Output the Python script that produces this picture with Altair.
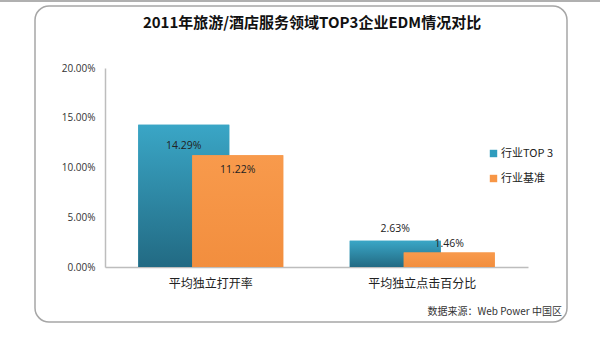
import altair as alt
import pandas as pd

categories = ["平均独立打开率", "平均独立点击百分比"]
series = ["行业TOP 3", "行业基准"]
top3 = [0.1429, 0.0263]
bench = [0.1122, 0.0146]
y_ticks = [0, 0.05, 0.10, 0.15, 0.20]
title_text = "2011年旅游/酒店服务领域TOP3企业EDM情况对比"
source_text = "数据来源：Web Power 中国区"

rows = []
for c, a, b in zip(categories, top3, bench):
    rows.append({"cat": c, "series": series[0], "v": a})
    rows.append({"cat": c, "series": series[1], "v": b})
df = pd.DataFrame(rows)

CJK = "Noto Sans CJK SC"
NUM = "Open Sans"

x = alt.X("cat:N", sort=categories, title=None,
          scale=alt.Scale(paddingInner=0, paddingOuter=0),
          axis=alt.Axis(labelAngle=0, ticks=False, labelFont=CJK, labelFontSize=12,
                        labelColor="#222", labelPadding=11, domainColor="#bdbdbd", domainWidth=1.5))
y = alt.Y("v:Q", title=None,
          scale=alt.Scale(domain=[0, 0.2], nice=False),
          axis=alt.Axis(values=y_ticks, format=".2%", grid=False, ticks=False,
                        labelFont=NUM, labelFontSize=10, labelColor="#333", labelPadding=10,
                        domainColor="#bdbdbd", domainWidth=1.5))
color = alt.Color("series:N", scale=alt.Scale(domain=series, range=["#2f9cbd", "#f79646"]),
                  legend=alt.Legend(title=None, orient="none", legendX=383, legendY=80,
                                    symbolType="square", symbolSize=55, symbolStrokeWidth=0,
                                    labelFont=CJK, labelFontSize=11, labelColor="#222",
                                    rowPadding=13, labelOffset=2))

teal_grad = alt.Gradient(gradient="linear", x1=0, y1=0, x2=0, y2=1,
                         stops=[alt.GradientStop(color="#3aa6c6", offset=0),
                                alt.GradientStop(color="#226a83", offset=1)])
orange_grad = alt.Gradient(gradient="linear", x1=0, y1=0, x2=0, y2=1,
                           stops=[alt.GradientStop(color="#f89a4c", offset=0),
                                  alt.GradientStop(color="#f28e3e", offset=1)])

base = alt.Chart(df)

def bars(s, off, grad):
    f = base.transform_filter(alt.datum.series == s)
    flat = f.mark_bar(size=91, xOffset=off).encode(x=x, y=y, color=color)
    g = f.mark_bar(size=91, xOffset=off).encode(x=x, y=y, fill=alt.value(grad))
    return [flat, g]

def lbl(s, c, off, dy):
    return base.transform_filter((alt.datum.series == s) & (alt.datum.cat == c)).mark_text(
        xOffset=off, dy=dy, font=NUM, fontSize=10.5, color="#222").encode(
        x=x, y=y, text=alt.Text("v:Q", format=".2%"))

labels = [lbl(series[0], categories[0], -27, 21),
          lbl(series[1], categories[0], 27, 15),
          lbl(series[0], categories[1], -27, -12),
          lbl(series[1], categories[1], 27, -8)]

one = pd.DataFrame({"a": [0]})
frame = alt.Chart(one).mark_rect(
    fill=None, stroke="#a6a6a6", strokeWidth=1.5, cornerRadius=14).encode(
    x=alt.value(-70), x2=alt.value(462), y=alt.value(-62), y2=alt.value(254))
topline = alt.Chart(one).mark_rule(color="#b0b0b0", strokeWidth=2).encode(
    x=alt.value(-105), x2=alt.value(495), y=alt.value(-67))
source = alt.Chart(pd.DataFrame({"t": [source_text]})).mark_text(
    align="right", baseline="middle", font=CJK, fontSize=10, color="#333").encode(
    x=alt.value(457), y=alt.value(244), text="t:N")
title = alt.Chart(pd.DataFrame({"t": [title_text]})).mark_text(
    align="center", baseline="middle", font=CJK, fontSize=15, fontWeight="bold", color="#111").encode(
    x=alt.value(207), y=alt.value(-45), text="t:N")

chart = alt.layer(frame, topline, *bars(series[0], -27, teal_grad), *bars(series[1], 27, orange_grad),
                  *labels, source, title).properties(
    width=423, height=199,
    autosize=alt.AutoSizeParams(type="none"),
    padding={"left": 105, "top": 68, "right": 72, "bottom": 89},
    background="white",
).configure_view(stroke=None)

chart.save("out.html", embed_options={"renderer": "svg", "actions": False})
